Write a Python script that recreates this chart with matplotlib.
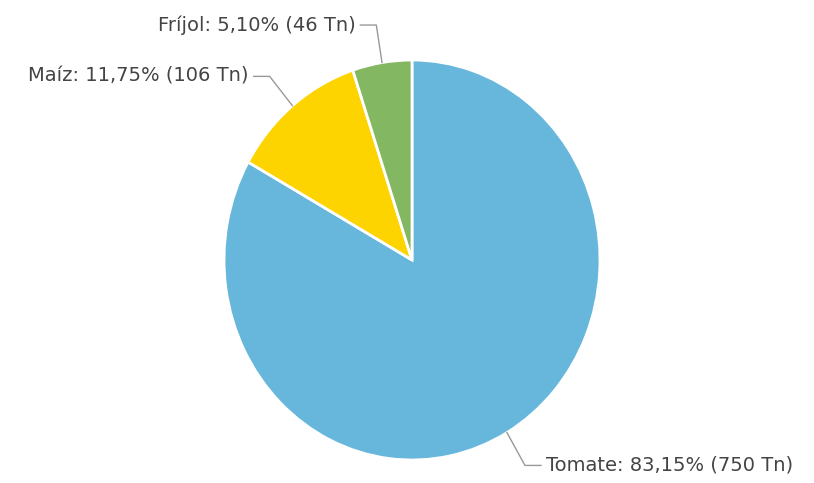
import numpy as np
import matplotlib
matplotlib.use('Agg')
import matplotlib.pyplot as plt

# data
cultivos = ['Tomate', 'Maíz', 'Fríjol']
toneladas = [750, 106, 46]
colores = ['#67b7dc', '#fdd400', '#84b761']

W, H = 814, 483
cx, cy = 412, 260      # pie centre in pixels
rx, ry = 188, 200      # pie radii in pixels (image is slightly stretched)

fig = plt.figure(figsize=(W / 100, H / 100), dpi=100)
ax = fig.add_axes([0, 0, 1, 1])

wedges, _ = ax.pie(toneladas, colors=colores, startangle=90, counterclock=False,
                   radius=1, center=(0, 0),
                   wedgeprops=dict(edgecolor='white', linewidth=2))

# pie() resets limits/aspect, so set them afterwards
ax.set_xlim(-cx / rx, (W - cx) / rx)
ax.set_ylim(-(H - cy) / ry, cy / ry)
ax.set_aspect('auto')
ax.axis('off')

total = sum(toneladas)
for w, nombre, val in zip(wedges, cultivos, toneladas):
    ang = np.deg2rad((w.theta1 + w.theta2) / 2)
    x0, y0 = np.cos(ang), np.sin(ang)
    x1, y1 = 1.19 * x0, 1.19 * y0
    lado = 1 if x0 >= 0 else -1
    x2 = x1 + lado * 16 / rx
    ax.plot([x0, x1, x2], [y0, y1, y1], color='#999999', lw=1)
    pct = f'{100 * val / total:.2f}'.replace('.', ',')
    txt = f'{nombre}: {pct}% ({val} Tn)'
    ax.text(x2 + lado * 5 / rx, y1, txt, ha='left' if lado > 0 else 'right',
            va='center', fontsize=14, color='#444444', family='DejaVu Sans')

fig.savefig('out.png', dpi=100)
